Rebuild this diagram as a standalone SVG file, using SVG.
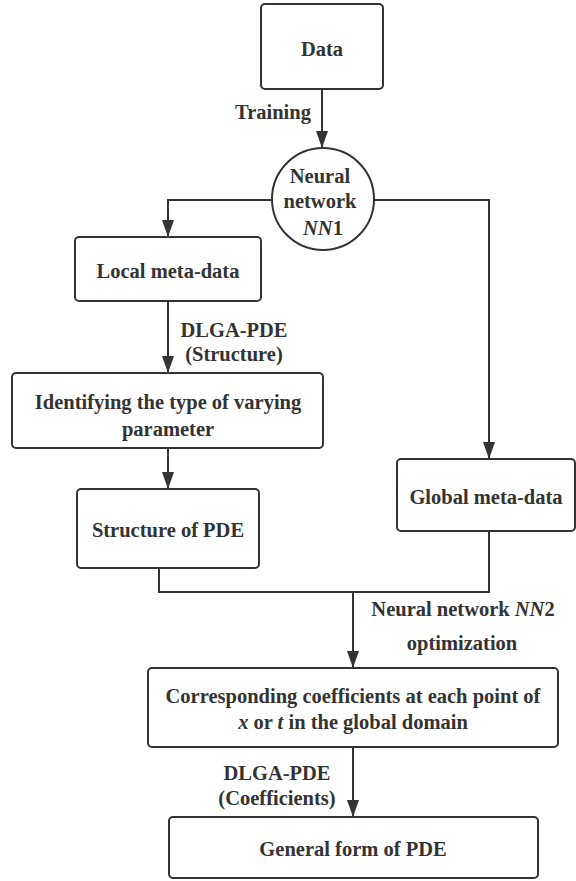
<svg xmlns="http://www.w3.org/2000/svg" width="576" height="881" viewBox="0 0 576 881">
<defs>
<style>
.box{fill:#fff;stroke:#333;stroke-width:2}
.ln{fill:none;stroke:#333;stroke-width:2}
text{font-family:"Liberation Serif","Times New Roman",serif;font-weight:bold;font-size:20.5px;fill:#333;text-anchor:middle}
.it{font-style:italic}
</style>
<marker id="ah" markerUnits="userSpaceOnUse" markerWidth="12" markerHeight="17" refX="6" refY="17" orient="0" viewBox="0 0 12 17">
<path d="M0,0 L12,0 L6,17 Z" fill="#333"/>
</marker>
</defs>
<g id="connectors">
<path class="ln" d="M322,89 V148" marker-end="url(#ah)"/>
<path class="ln" d="M272,200 H168 V237" marker-end="url(#ah)"/>
<path class="ln" d="M374,200 H489 V459" marker-end="url(#ah)"/>
<path class="ln" d="M168,301 V373" marker-end="url(#ah)"/>
<path class="ln" d="M168,448 V489" marker-end="url(#ah)"/>
<path class="ln" d="M159,568 V592 H489 V531"/>
<path class="ln" d="M353,592 V668" marker-end="url(#ah)"/>
<path class="ln" d="M353,747 V817" marker-end="url(#ah)"/>
<text x="273" y="119">Training</text>
<text x="234" y="337">DLGA-PDE</text>
<text x="234" y="361">(Structure)</text>
<text x="463" y="616">Neural network  <tspan class="it">NN</tspan>2</text>
<text x="462" y="650">optimization</text>
<text x="277" y="780">DLGA-PDE</text>
<text x="277" y="805">(Coefficients)</text>
</g>
<g id="data">
<rect class="box" x="261" y="4" width="122" height="85" rx="4"/>
<text x="322" y="56">Data</text>
</g>
<g id="nn1">
<circle class="box" cx="323" cy="199" r="51"/>
<text x="320" y="183">Neural</text>
<text x="320" y="208">network</text>
<text x="323" y="235"><tspan class="it">NN</tspan>1</text>
</g>
<g id="local">
<rect class="box" x="75" y="237" width="186" height="64" rx="4"/>
<text x="168" y="278">Local meta-data</text>
</g>
<g id="identify">
<rect class="box" x="12" y="373" width="311" height="75" rx="4"/>
<text x="168" y="409">Identifying the type of varying</text>
<text x="168" y="436">parameter</text>
</g>
<g id="structure">
<rect class="box" x="77" y="489" width="182" height="79" rx="4"/>
<text x="168" y="537">Structure of PDE</text>
</g>
<g id="global">
<rect class="box" x="397" y="459" width="178" height="72" rx="4"/>
<text x="486" y="504">Global meta-data</text>
</g>
<g id="coeff">
<rect class="box" x="148" y="668" width="410" height="79" rx="4"/>
<text x="353" y="703">Corresponding coefficients at each point of</text>
<text x="353" y="729"><tspan class="it">x</tspan> or <tspan class="it">t</tspan> in the global domain</text>
</g>
<g id="general">
<rect class="box" x="169" y="817" width="369" height="61" rx="4"/>
<text x="353" y="856">General form of PDE</text>
</g>
</svg>
